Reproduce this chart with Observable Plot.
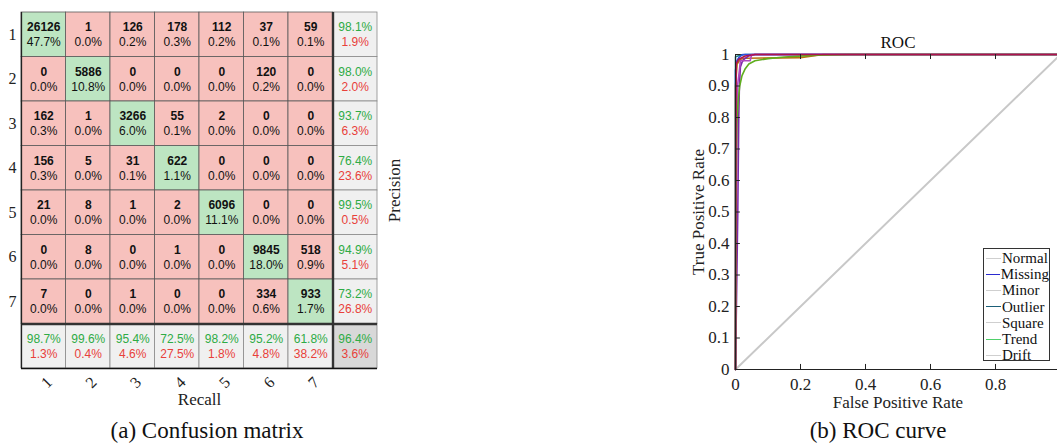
<!DOCTYPE html>
<html>
<head>
<meta charset="utf-8">
<script src="https://cdn.jsdelivr.net/npm/d3@7"></script>
<script src="https://cdn.jsdelivr.net/npm/@observablehq/plot@0.6"></script>
<style>
  html, body { margin: 0; padding: 0; background: #fff; }
  #wrap { position: relative; width: 1057px; height: 446px; overflow: hidden; background: #fff; }
  #cm, #roc { position: absolute; top: 0; }
  #cm { left: 0; width: 420px; }
  #roc { left: 680px; width: 400px; }
  #cm svg, #roc svg { max-width: none !important; }
  .cap { position: absolute; top: 419px; width: 300px; text-align: center; font: 23px "Liberation Serif", serif; line-height: 24px; color: #111; }
  #legend { position: absolute; left: 983px; top: 248px; width: 67px; height: 113px; border: 1.3px solid #333; background: #fff; padding-top: 1px; box-sizing: border-box; font: 15px "Liberation Serif", serif; color: #111; }
  #legend .row { height: 16.2px; line-height: 16.2px; white-space: nowrap; display: flex; align-items: center; }
  #legend .sw { display: inline-block; width: 15px; height: 0; border-top: 1.4px solid; margin-left: 2px; margin-right: 1px; }
</style>
</head>
<body>
<div id="wrap">
  <div id="cm"></div>
  <div id="roc"></div>
  <div id="legend"></div>
  <div class="cap" style="left:57px">(a) Confusion matrix</div>
  <div class="cap" style="left:728px">(b) ROC curve</div>
</div>
<script>
// ---------- Confusion matrix data ----------
const classes = ["1", "2", "3", "4", "5", "6", "7"];
const counts = [
  [26126, 1, 126, 178, 112, 37, 59],
  [0, 5886, 0, 0, 0, 120, 0],
  [162, 1, 3266, 55, 2, 0, 0],
  [156, 5, 31, 622, 0, 0, 0],
  [21, 8, 1, 2, 6096, 0, 0],
  [0, 8, 0, 1, 0, 9845, 518],
  [7, 0, 1, 0, 0, 334, 933]
];
const precision = [98.1, 98.0, 93.7, 76.4, 99.5, 94.9, 73.2];
const recall = [98.7, 99.6, 95.4, 72.5, 98.2, 95.2, 61.8];
const overall = 96.4;

// ---------- ROC data ----------
const rocNames = ["Normal", "Missing", "Minor", "Outlier", "Square", "Trend", "Drift"];
const rocCurveColors = ["#1d7f86", "#2f4fe0", "#b8700f", "#7a2aa8", "#b04ac0", "#5fae1e", "#b0124e"];
const legendColors = ["#cfcfcf", "#2b2bd0", "#cfcfcf", "#1b5f78", "#cfcfcf", "#4fd06a", "#cfcfcf"];
const rocFpr = [
  [0, 0, 0.01, 0.03, 1],
  [0, 0, 0.004, 0.01, 0.022, 1],
  [0, 0, 0.005, 0.015, 0.03, 0.2, 0.27, 1],
  [0, 0.007, 0.01, 0.012, 0.015, 0.02, 0.026, 0.04, 0.06, 1],
  [0, 0.004, 0.006, 0.012, 0.015, 0.045, 0.05, 1],
  [0, 0.002, 0.004, 0.008, 0.013, 0.02, 0.03, 0.041, 0.06, 0.1, 0.15, 0.25, 0.35, 1],
  [0, 0.002, 0.01, 0.03, 0.06, 1]
];
const rocTpr = [
  [0, 0.993, 0.996, 1, 1],
  [0, 0.95, 0.98, 0.99, 1, 1],
  [0, 0.9, 0.97, 0.985, 0.988, 0.99, 1, 1],
  [0, 0.5, 0.8, 0.9, 0.96, 0.975, 0.985, 0.995, 1, 1],
  [0, 0.7, 0.9, 0.95, 0.98, 0.98, 1, 1],
  [0, 0.6, 0.78, 0.85, 0.9, 0.933, 0.955, 0.97, 0.98, 0.987, 0.992, 0.998, 1, 1],
  [0, 0.97, 0.985, 0.995, 1, 1]
];
const yTicks = [0, 0.1, 0.2, 0.3, 0.4, 0.5, 0.6, 0.7, 0.8, 0.9, 1];
const xTicks = [0, 0.2, 0.4, 0.6, 0.8, 1];
const xTickLabels = [0, 0.2, 0.4, 0.6, 0.8];

// ---------- Build confusion matrix ----------
const total = d3.sum(counts.flat());
const n = classes.length;
const GREEN = "#bde5c2", PINK = "#f7c1bd", GREY = "#f0f0f0", CORNER = "#d8d8d8";
const TXT_G = "#2eab45", TXT_R = "#e8403a";
const SANS = "Liberation Sans, Arial, sans-serif";

const cells = counts.flatMap((row, r) => row.map((v, c) => ({ r, c, count: v, pct: v / total * 100 })));
const summary = [
  ...precision.map((p, r) => ({ r, c: n, hit: p, corner: false })),
  ...recall.map((p, c) => ({ r: n, c, hit: p, corner: false })),
  { r: n, c: n, hit: overall, corner: true }
];
const classPos = classes.map((d, i) => i + 0.5);

const cm = Plot.plot({
  width: 420, height: 410,
  marginLeft: 21, marginRight: 43, marginTop: 12, marginBottom: 42,
  x: { domain: [0, n + 1], axis: null },
  y: { domain: [0, n + 1], reverse: true },
  color: { type: "identity" },
  style: { fontFamily: "Liberation Serif, serif", fontSize: "16px", color: "#222", background: "transparent", overflow: "visible" },
  marks: [
    Plot.rect(cells, { x1: "c", x2: d => d.c + 1, y1: "r", y2: d => d.r + 1, fill: d => d.r === d.c ? GREEN : PINK, stroke: "#5a5a5a", strokeWidth: 0.8 }),
    Plot.rect(summary, { x1: "c", x2: d => d.c + 1, y1: "r", y2: d => d.r + 1, fill: d => d.corner ? CORNER : GREY, stroke: "#8a8a8a", strokeWidth: 0.8 }),
    Plot.ruleX([n], { y1: 0, y2: n + 1, stroke: "#333", strokeWidth: 2.4 }),
    Plot.ruleY([n], { x1: 0, x2: n + 1, stroke: "#333", strokeWidth: 2.4 }),
    Plot.ruleX([0], { y1: 0, y2: n + 1, stroke: "#222", strokeWidth: 1.3 }),
    Plot.ruleY([n + 1], { x1: 0, x2: n + 1, stroke: "#111", strokeWidth: 1.5 }),
    Plot.text(cells, { x: d => d.c + 0.5, y: d => d.r + 0.5, text: d => String(d.count), dy: -7.5, fontFamily: SANS, fontSize: 12, fontWeight: "bold", fill: "#111" }),
    Plot.text(cells, { x: d => d.c + 0.5, y: d => d.r + 0.5, text: d => d.pct.toFixed(1) + "%", dy: 7.5, fontFamily: SANS, fontSize: 12, fill: "#111" }),
    Plot.text(summary, { x: d => d.c + 0.5, y: d => d.r + 0.5, text: d => d.hit.toFixed(1) + "%", dy: -7.5, fontFamily: SANS, fontSize: 12, fontWeight: d => d.corner ? "bold" : "normal", fill: TXT_G }),
    Plot.text(summary, { x: d => d.c + 0.5, y: d => d.r + 0.5, text: d => (100 - d.hit).toFixed(1) + "%", dy: 7.5, fontFamily: SANS, fontSize: 12, fontWeight: d => d.corner ? "bold" : "normal", fill: TXT_R }),
    Plot.axisY(classPos, { tickFormat: d => classes[Math.floor(d)], tickSize: 0, tickPadding: 5, label: null, fontSize: 16 }),
    Plot.text(classes, { x: (d, i) => i + 0.5, y: n + 1, text: d => d, dy: 14, dx: 3, rotate: -45, fontSize: 16, fill: "#222" }),
    Plot.text(["Recall"], { frameAnchor: "bottom", lineAnchor: "middle", dy: 31, fontSize: 17, fill: "#222" }),
    Plot.text(["Precision"], { frameAnchor: "right", textAnchor: "middle", dx: 17, rotate: -90, fontSize: 17, fill: "#222" })
  ]
});
document.getElementById("cm").append(cm);

// ---------- Build ROC ----------
const fmt = d => String(+d.toFixed(1));
const curveMarks = rocNames.map((name, i) =>
  Plot.line(d3.zip(rocFpr[i], rocTpr[i]), { x: d => d[0], y: d => d[1], stroke: rocCurveColors[i], strokeWidth: 1.6 })
);
const roc = Plot.plot({
  width: 400, height: 415,
  marginLeft: 55, marginRight: 20, marginTop: 54, marginBottom: 46,
  x: { domain: [0, 1] },
  y: { domain: [0, 1] },
  style: { fontFamily: "Liberation Serif, serif", fontSize: "17px", color: "#222", background: "transparent", overflow: "visible" },
  marks: [
    Plot.ruleY([1], { x1: 0, x2: 1, stroke: "#222", strokeWidth: 1 }),
    Plot.line([[0, 0], [1, 1]], { x: d => d[0], y: d => d[1], stroke: "#c8c8c8", strokeWidth: 2 }),
    ...curveMarks,
    Plot.ruleX([0], { y1: 0, y2: 1, stroke: "#222", strokeWidth: 1 }),
    Plot.ruleY([0], { x1: 0, x2: 1, stroke: "#222", strokeWidth: 1 }),
    Plot.ruleY(yTicks, { x1: 0, x2: 0.015, stroke: "#222", strokeWidth: 1 }),
    Plot.ruleX(xTicks, { y1: 0, y2: 0.016, stroke: "#222", strokeWidth: 1 }),
    Plot.ruleX(xTicks, { y1: 0.984, y2: 1, stroke: "#222", strokeWidth: 1 }),
    Plot.axisY(yTicks, { tickSize: 0, tickPadding: 6, tickFormat: fmt, label: null, fontSize: 17 }),
    Plot.axisX(xTickLabels, { tickSize: 0, tickPadding: 8, tickFormat: fmt, label: null, fontSize: 17 }),
    Plot.text(["ROC"], { frameAnchor: "top", lineAnchor: "middle", dy: -12, fontSize: 17, fill: "#111" }),
    Plot.text(["True Positive Rate"], { frameAnchor: "left", textAnchor: "middle", dx: -37, rotate: -90, fontSize: 17, fill: "#222" }),
    Plot.text(["False Positive Rate"], { frameAnchor: "bottom", lineAnchor: "middle", dy: 33, fontSize: 17, fill: "#222" })
  ]
});
document.getElementById("roc").append(roc);

// ---------- Legend ----------
const legend = d3.select("#legend");
rocNames.forEach((name, i) => {
  const row = legend.append("div").attr("class", "row");
  row.append("span").attr("class", "sw").style("border-top-color", legendColors[i]);
  row.append("span").text(name);
});
</script>
</body>
</html>
